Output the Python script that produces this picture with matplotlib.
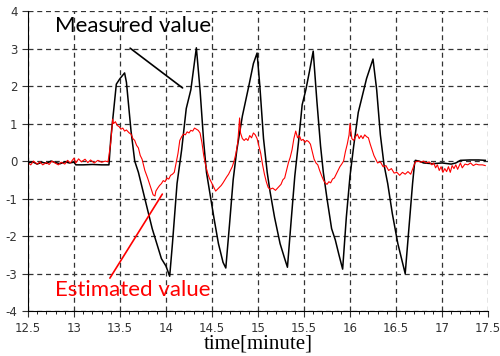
import matplotlib
matplotlib.use("Agg")
import matplotlib.pyplot as plt
import numpy as np

# measured value (black)
t_meas = [12.5, 12.55, 12.6, 12.65, 12.7, 12.75, 12.8, 12.85, 12.9, 12.95, 13.0, 13.02, 13.1, 13.2, 13.3, 13.38,
          13.40, 13.46, 13.50, 13.55, 13.57, 13.62, 13.66, 13.70, 13.76, 13.85, 13.95, 14.00, 14.04,
          14.07, 14.12, 14.17, 14.22, 14.27, 14.33, 14.37, 14.41, 14.44, 14.48, 14.52, 14.57, 14.62, 14.65,
          14.69, 14.73, 14.77, 14.83, 14.90, 14.95, 14.99, 15.02, 15.06, 15.10, 15.13, 15.18, 15.24, 15.29, 15.32,
          15.36, 15.40, 15.44, 15.48, 15.52, 15.56, 15.60, 15.64, 15.68, 15.71, 15.75, 15.80, 15.84, 15.88, 15.92,
          15.96, 16.00, 16.04, 16.09, 16.13, 16.18, 16.25, 16.29, 16.33, 16.37, 16.41, 16.46, 16.52, 16.56, 16.60,
          16.64, 16.68, 16.70, 16.71, 16.75, 16.8, 16.9, 17.0, 17.1, 17.15, 17.2, 17.3, 17.4, 17.47]
v_meas = [-0.05, -0.02, -0.08, -0.03, -0.06, 0.0, -0.04, -0.07, -0.02, -0.05, -0.03, -0.1, -0.1, -0.09, -0.1, -0.1,
          0.6, 2.05, 2.2, 2.35, 2.1, 0.8, 0.0, -0.3, -0.9, -1.8, -2.6, -2.8, -3.07,
          -2.2, -0.6, 0.3, 1.4, 1.9, 3.02, 1.9, 0.5, -0.3, -0.9, -1.5, -2.2, -2.7, -2.85,
          -1.7, -0.5, 0.3, 1.2, 2.0, 2.6, 2.88, 2.0, 0.6, -0.3, -0.8, -1.5, -2.2, -2.6, -2.83,
          -1.6, -0.4, 0.5, 1.5, 1.9, 2.4, 2.93, 1.6, 0.4, -0.3, -1.0, -1.8, -2.1, -2.5, -2.88,
          -1.5, -0.4, 0.4, 1.3, 1.7, 2.2, 2.72, 1.9, 0.7, -0.1, -0.6, -1.4, -2.2, -2.6, -3.0,
          -1.8, -0.6, -0.1, 0.02, 0.0, -0.05, -0.07, -0.05, -0.08, -0.05, 0.02, 0.03, 0.03, 0.02]

# estimated value (red)
t_est = [12.5, 12.53, 12.56, 12.6, 12.63, 12.66, 12.7, 12.73, 12.76, 12.8, 12.83, 12.86, 12.9, 12.93, 12.96,
         13.0, 13.02, 13.05, 13.08, 13.12, 13.15, 13.18, 13.22, 13.26, 13.3, 13.34, 13.37,
         13.40, 13.42, 13.43, 13.45, 13.47, 13.49, 13.51, 13.53, 13.55, 13.57, 13.6, 13.62, 13.64, 13.66,
         13.68, 13.70, 13.72, 13.74, 13.77, 13.80, 13.82, 13.84, 13.86, 13.88, 13.89, 13.91, 13.93, 13.95,
         13.97, 13.99, 14.01, 14.03, 14.05, 14.07, 14.09, 14.11, 14.13, 14.15, 14.17, 14.19, 14.21, 14.23,
         14.25, 14.27, 14.29, 14.31, 14.33, 14.35, 14.37, 14.39, 14.41, 14.43, 14.45, 14.47, 14.5, 14.52,
         14.54, 14.56, 14.58, 14.6, 14.62, 14.64, 14.66, 14.68, 14.70, 14.72, 14.74, 14.76, 14.78, 14.80,
         14.81, 14.83, 14.85, 14.87, 14.89, 14.91, 14.93, 14.95, 14.97, 14.99, 15.01, 15.03, 15.05, 15.07,
         15.09, 15.11, 15.13, 15.16, 15.19, 15.22, 15.25, 15.27, 15.29, 15.31, 15.33, 15.35, 15.37, 15.39,
         15.41, 15.43, 15.45, 15.47, 15.49, 15.51, 15.53, 15.55, 15.57, 15.59, 15.61, 15.63, 15.65, 15.67,
         15.69, 15.71, 15.73, 15.75, 15.77, 15.79, 15.81, 15.83, 15.85, 15.87, 15.89, 15.91, 15.93, 15.95,
         15.97, 15.99, 16.0, 16.02, 16.04, 16.06, 16.08, 16.10, 16.12, 16.14, 16.16, 16.18, 16.20, 16.22,
         16.24, 16.26, 16.28, 16.30, 16.33, 16.36, 16.39, 16.42, 16.45, 16.48, 16.51, 16.54, 16.57, 16.60,
         16.63, 16.66, 16.69, 16.71, 16.74, 16.77, 16.80, 16.83, 16.86, 16.89, 16.91, 16.93, 16.95, 16.97,
         16.99, 17.01, 17.03, 17.05, 17.07, 17.09, 17.11, 17.13, 17.15, 17.17, 17.2, 17.22, 17.25, 17.28,
         17.31, 17.34, 17.37, 17.4, 17.44, 17.47]
v_est = [-0.05, -0.1, 0.0, -0.08, -0.02, -0.1, -0.04, -0.09, 0.0, -0.06, -0.1, -0.03, -0.08, 0.02, -0.05,
         0.08, -0.05, 0.06, -0.02, 0.05, -0.04, 0.03, -0.05, 0.02, -0.03, 0.0, -0.02,
         0.5, 1.12, 1.0, 1.05, 0.95, 0.92, 0.85, 0.88, 0.8, 0.83, 0.75, 0.72, 0.6, 0.55,
         0.42, 0.35, 0.15, 0.05, -0.25, -0.45, -0.6, -0.75, -0.9, -0.93, -0.8, -0.72, -0.65, -0.6,
         -0.52, -0.55, -0.45, -0.48, -0.38, -0.35, -0.3, -0.05, 0.2, 0.55, 0.65, 0.72, 0.7, 0.78,
         0.75, 0.82, 0.8, 0.88, 0.85, 0.82, 0.75, 0.5, 0.15, -0.1, -0.3, -0.45, -0.6, -0.7,
         -0.8, -0.75, -0.7, -0.65, -0.58, -0.5, -0.42, -0.35, -0.25, -0.15, 0.0, 0.2, 0.5, 1.15,
         0.75, 0.6, 0.55, 0.6, 0.55, 0.68, 0.62, 0.75, 0.7, 0.6, 0.4, 0.2, -0.1, -0.35,
         -0.55, -0.7, -0.75, -0.72, -0.78, -0.7, -0.62, -0.5, -0.45, -0.25, -0.05, 0.1, 0.3, 0.6,
         0.8, 0.62, 0.68, 0.55, 0.58, 0.5, 0.55, 0.52, 0.45, 0.25, 0.05, -0.05, -0.1, -0.25,
         -0.38, -0.5, -0.58, -0.62, -0.55, -0.58, -0.48, -0.45, -0.35, -0.25, -0.15, -0.08, 0.0, 0.25,
         0.45, 0.7, 1.0, 0.6, 0.55, 0.65, 0.72, 0.6, 0.68, 0.6, 0.7, 0.65, 0.62, 0.45,
         0.3, 0.15, 0.05, -0.05, -0.02, -0.15, -0.12, -0.25, -0.2, -0.32, -0.3, -0.38, -0.3, -0.35,
         -0.28, -0.35, -0.15, -0.02, 0.0, -0.03, 0.0, -0.05, -0.02, -0.1, -0.05, -0.18, -0.1, -0.25,
         -0.15, -0.3, -0.2, -0.28, -0.15, -0.3, -0.12, -0.2, -0.1, -0.22, -0.05, -0.18, -0.08, -0.1,
         -0.05, -0.12, -0.08, -0.1, -0.1, -0.12]

x_ticks = [12.5, 13, 13.5, 14, 14.5, 15, 15.5, 16, 16.5, 17, 17.5]
x_labels = ['12.5', '13', '13.5', '14', '14.5', '15', '15.5', '16', '16.5', '17', '17.5']
y_ticks = [-4, -3, -2, -1, 0, 1, 2, 3, 4]
y_labels = ['-4', '-3', '-2', '-1', '0', '1', '2', '3', '4']

fig = plt.figure(figsize=(5.0, 3.56), dpi=100)
ax = fig.add_axes([0.056, 0.126, 0.920, 0.843])

ax.plot(t_meas, v_meas, color='black', lw=1.1)
ax.plot(t_est, v_est, color='red', lw=0.8)

ax.set_xlim(12.5, 17.5)
ax.set_ylim(-4, 4)
ax.set_xticks(x_ticks, x_labels)
ax.set_xticks(np.arange(12.5, 17.55, 0.1), minor=True)
ax.set_yticks(y_ticks, y_labels)
ax.tick_params(labelsize=8.5, colors='#333333', length=4, width=0.8)
ax.tick_params(which='minor', length=2.5, width=0.6)
ax.grid(True, which='major', color='#333333', linestyle=(0, (4, 3)), lw=0.9)
ax.spines['top'].set_visible(False)
ax.spines['right'].set_visible(False)

ax.set_xlabel('time[minute]', family='Liberation Serif', fontsize=15, labelpad=0)

ax.text(13.64, 3.6, 'Measured value', family='Lato', fontsize=16, ha='center', va='center')
ax.annotate('', xy=(14.18, 1.95), xytext=(13.61, 3.01),
            arrowprops=dict(arrowstyle='-', color='black', lw=1.2, shrinkA=0, shrinkB=0))
ax.text(13.64, -3.44, 'Estimated value', family='Lato', fontsize=16, color='red', ha='center', va='center')
ax.annotate('', xy=(13.96, -0.88), xytext=(13.39, -3.12),
            arrowprops=dict(arrowstyle='-', color='red', lw=1.2, shrinkA=0, shrinkB=0))

fig.savefig('out.png', dpi=100)
